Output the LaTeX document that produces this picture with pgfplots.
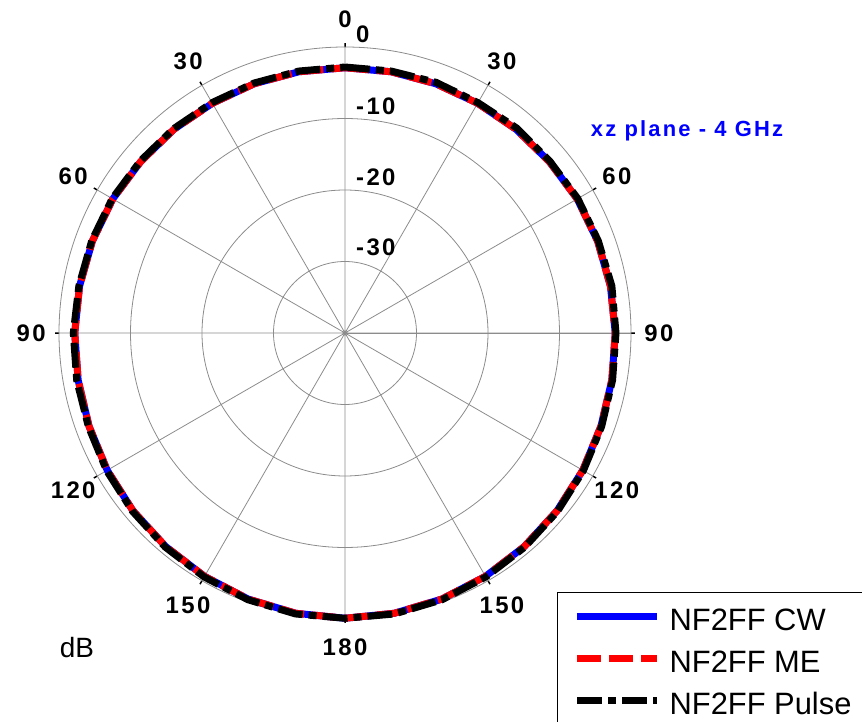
\documentclass[border=0pt]{standalone}
\usepackage{pgfplots}
\pgfplotsset{compat=1.18}
\usepgfplotslibrary{polar}
\usepackage{pgfplotstable}
\usepackage{fontspec}
\setmainfont{Liberation Sans}
\newfontfamily\lblfont[LetterSpace=10]{Liberation Sans}
\definecolor{gridgray}{RGB}{140,140,140}

% compass angle t (clockwise from top, deg), gain in dB
\pgfplotstableread{
t   cw    me    pu
0   -2.9  -2.9  -2.8
10  -2.9  -2.9  -2.8
20  -2.9  -2.9  -2.7
30  -2.9  -2.9  -2.8
40  -2.8  -2.8  -2.6
50  -2.7  -2.7  -2.6
60  -2.5  -2.5  -2.4
70  -2.4  -2.4  -2.3
80  -2.3  -2.3  -2.1
90  -2.2  -2.2  -2.1
100 -2.1  -2.1  -2.0
110 -1.9  -1.9  -1.8
120 -1.6  -1.6  -1.5
130 -1.3  -1.3  -1.2
140 -1.0  -1.0  -0.9
150 -0.7  -0.7  -0.6
160 -0.4  -0.4  -0.3
170 -0.2  -0.2  -0.1
180 -0.1  -0.1  -0.1
190 -0.2  -0.2  -0.1
200 -0.4  -0.4  -0.3
210 -0.7  -0.7  -0.6
220 -1.0  -1.0  -0.9
230 -1.3  -1.3  -1.2
240 -1.6  -1.6  -1.5
250 -1.9  -1.9  -1.8
260 -2.1  -2.1  -1.9
270 -2.2  -2.2  -2.0
280 -2.3  -2.3  -2.2
290 -2.4  -2.4  -2.3
300 -2.5  -2.5  -2.4
310 -2.7  -2.7  -2.6
320 -2.8  -2.8  -2.7
330 -2.9  -2.9  -2.8
340 -2.9  -2.9  -2.8
350 -2.9  -2.9  -2.8
360 -2.9  -2.9  -2.8
}\data

\begin{document}
\begin{tikzpicture}
\path[use as bounding box, clip] (0,0) rectangle (862bp,722bp);
\begin{polaraxis}[
  scale only axis, width=572bp, height=572bp,
  at={(345bp,389bp)}, anchor=center,
  xmin=0, xmax=360, ymin=0, ymax=40,
  xtick={0,30,...,330}, xticklabels={},
  ytick={10,20,30}, yticklabels={},
  grid=major,
  major grid style={color=gridgray, line width=0.8bp},
  axis line style={color=gridgray, line width=0.8bp},
  xtick style={black, line width=1.5bp},
  ytick style={draw=none},
  major tick length=4bp,
  clip=false,
  legend image code/.code={\draw[#1] (0bp,0bp) -- (80bp,0bp);},
  legend cell align=left,
  legend style={at={(axis description cs:0.8706,0.0472)}, anchor=north west,
    draw=black, line width=1.2bp, fill=white,
    font=\fontsize{31}{31}\selectfont,
    inner xsep=16bp, inner ysep=6.5bp, row sep=8.3bp,
    nodes={inner sep=0bp, text height=31bp, text depth=3bp},
    /tikz/every odd column/.style={column sep=9bp}},
]
\addplot[color={rgb,255:red,0;green,0;blue,255}, line width=7bp, line join=round, no markers]
  table[x expr=90-\thisrow{t}, y expr=\thisrow{cw}+40] {\data};
\addlegendentry{NF2FF CW}
\addplot[color={rgb,255:red,255;green,0;blue,0}, line width=7bp, line join=round, dash pattern=on 24bp off 8bp, no markers]
  table[x expr=90-\thisrow{t}, y expr=\thisrow{me}+40] {\data};
\addlegendentry{NF2FF ME}
\addplot[black, line width=7bp, line join=round, dash pattern=on 25bp off 6bp on 8bp off 6bp, no markers]
  table[x expr=90-\thisrow{t}, y expr=\thisrow{pu}+40] {\data};
\addlegendentry{NF2FF Pulse}

\foreach \ang/\lab in {90/0, 60/30, 30/60, 0/90, -30/120, -60/150, -90/180, -120/150, -150/120, 180/90, 150/60, 120/30}{
  \edef\tmp{\noexpand\node[font=\noexpand\lblfont\noexpand\fontsize{24}{24}\noexpand\selectfont\noexpand\bfseries] at (axis cs:\ang,43.9) {\lab};}
  \tmp
}
\end{polaraxis}
\begin{scope}[every node/.style={font=\lblfont\fontsize{24}{24}\selectfont\bfseries, anchor=west, inner sep=0pt}]
\node at (356bp,688bp) {0};
\node at (356bp,616bp) {-10};
\node at (356bp,545bp) {-20};
\node at (356bp,475bp) {-30};
\end{scope}
\node[font=\lblfont\fontsize{22}{22}\selectfont\bfseries, text={rgb,255:red,0;green,0;blue,255}, inner sep=0pt] at (687bp,591bp) {xz plane - 4 GHz};
\node[font=\fontsize{28}{28}\selectfont, inner sep=0pt] at (77bp,74bp) {dB};
\end{tikzpicture}
\end{document}
